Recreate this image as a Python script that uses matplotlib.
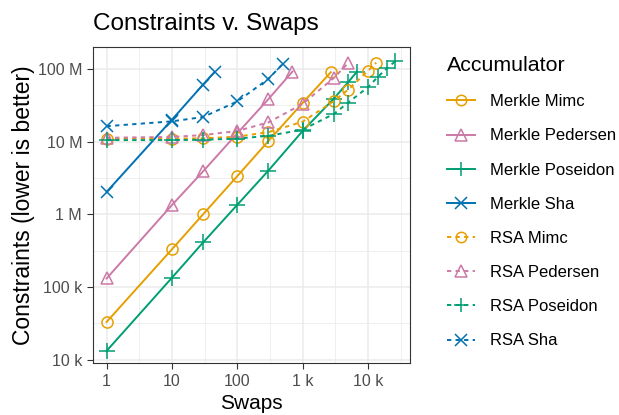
import matplotlib
matplotlib.use("Agg")
import matplotlib.pyplot as plt
import numpy as np
from matplotlib.lines import Line2D
from matplotlib.ticker import FixedLocator, NullFormatter

plt.rcParams['font.family'] = ['Liberation Sans', 'DejaVu Sans']

# swaps vs constraints
merkle_mimc_x = [1, 10, 30, 100, 300, 1000, 2700]
merkle_mimc_y = [33e3, 330e3, 1.0e6, 3.35e6, 10.2e6, 34e6, 90e6]

merkle_pedersen_x = [1, 10, 30, 100, 300, 700]
merkle_pedersen_y = [131e3, 1.34e6, 3.9e6, 13e6, 38.5e6, 92e6]

merkle_poseidon_x = [1, 10, 30, 100, 300, 1000, 3000, 5000, 6800]
merkle_poseidon_y = [13.2e3, 134e3, 410e3, 1.35e6, 4.0e6, 14e6, 39e6, 66e6, 92e6]

merkle_sha_x = [1, 10, 30, 45]
merkle_sha_y = [2.03e6, 20e6, 61e6, 91e6]

rsa_mimc_x = [1, 10, 30, 100, 300, 1000, 3000, 5000, 10000, 13400]
rsa_mimc_y = [10.9e6, 11.0e6, 11.1e6, 11.7e6, 13.5e6, 18.8e6, 36e6, 52e6, 94e6, 122e6]

rsa_pedersen_x = [1, 10, 30, 100, 300, 1000, 3000, 5000]
rsa_pedersen_y = [11.3e6, 11.6e6, 12.3e6, 14e6, 18.4e6, 33e6, 75e6, 121e6]

rsa_poseidon_x = [1, 10, 30, 100, 300, 1000, 3000, 5000, 10000, 14000, 19500, 26000]
rsa_poseidon_y = [10.5e6, 10.5e6, 10.6e6, 11e6, 12e6, 14.6e6, 24e6, 34.5e6, 56e6, 77e6, 102e6, 127e6]

rsa_sha_x = [1, 10, 30, 100, 300, 500]
rsa_sha_y = [16.3e6, 19e6, 21.8e6, 35.7e6, 73e6, 118e6]

labels = ['Merkle Mimc', 'Merkle Pedersen', 'Merkle Poseidon', 'Merkle Sha',
          'RSA Mimc', 'RSA Pedersen', 'RSA Poseidon', 'RSA Sha']
xs = [merkle_mimc_x, merkle_pedersen_x, merkle_poseidon_x, merkle_sha_x,
      rsa_mimc_x, rsa_pedersen_x, rsa_poseidon_x, rsa_sha_x]
ys = [merkle_mimc_y, merkle_pedersen_y, merkle_poseidon_y, merkle_sha_y,
      rsa_mimc_y, rsa_pedersen_y, rsa_poseidon_y, rsa_sha_y]

colors = ['#E69F00', '#CC79A7', '#009E73', '#0072B2'] * 2
markers = ['o', '^', '+', 'x'] * 2
msizes = [8, 9, 11, 9] * 2
styles = ['-'] * 4 + [(0, (2.2, 2.2))] * 4

fig = plt.figure(figsize=(6.19, 4.15), dpi=100)
ax = fig.add_axes([0.150, 0.125, 0.512, 0.762])

handles = []
for i in range(8):
    ax.plot(xs[i], ys[i], color=colors[i], linestyle=styles[i], linewidth=1.4,
            marker=markers[i], markersize=msizes[i], markerfacecolor='none',
            markeredgewidth=1.1, zorder=3)
    handles.append(Line2D([], [], color=colors[i], linestyle=styles[i], linewidth=1.4,
                          marker=markers[i], markersize=msizes[i] - 0.5, markerfacecolor='none',
                          markeredgewidth=1.1))

ax.set_xscale('log')
ax.set_yscale('log')
ax.set_xlim(10 ** -0.21, 10 ** 4.64)
ax.set_ylim(10 ** 3.953, 10 ** 8.303)

ax.xaxis.set_major_locator(FixedLocator([1, 10, 100, 1000, 10000]))
ax.set_xticklabels(['1', '10', '100', '1 k', '10 k'])
ax.xaxis.set_minor_locator(FixedLocator([10 ** (k + 0.5) for k in range(-1, 5)]))
ax.xaxis.set_minor_formatter(NullFormatter())
ax.yaxis.set_major_locator(FixedLocator([1e4, 1e5, 1e6, 1e7, 1e8]))
ax.set_yticklabels(['10 k', '100 k', '1 M', '10 M', '100 M'])
ax.yaxis.set_minor_locator(FixedLocator([10 ** (k + 0.5) for k in range(3, 9)]))
ax.yaxis.set_minor_formatter(NullFormatter())

ax.grid(which='major', color='#EBEBEB', linewidth=1.1, zorder=0)
ax.grid(which='minor', color='#EBEBEB', linewidth=0.55, zorder=0)
ax.set_axisbelow(True)
ax.tick_params(which='major', length=4.2, width=0.8, color='#333333',
               labelsize=11.5, labelcolor='#4D4D4D', pad=3.5)
ax.tick_params(which='minor', length=0)
for s in ax.spines.values():
    s.set_color('#333333')
    s.set_linewidth(0.8)

ax.set_xlabel('Swaps', fontsize=15, labelpad=4)
ax.set_ylabel('Constraints (lower is better)', fontsize=16.5, labelpad=2)
ax.set_title('Constraints v. Swaps', fontsize=17.5, loc='left', pad=12, x=0.0)

leg = fig.legend(handles, labels, loc='upper left', bbox_to_anchor=(0.712, 0.881),
                 frameon=False, fontsize=12, title='Accumulator', title_fontsize=15.4,
                 handlelength=1.65, handletextpad=0.9, labelspacing=1.15, borderaxespad=0)
leg._legend_box.align = 'left'

fig.savefig('out.png', dpi=100)
